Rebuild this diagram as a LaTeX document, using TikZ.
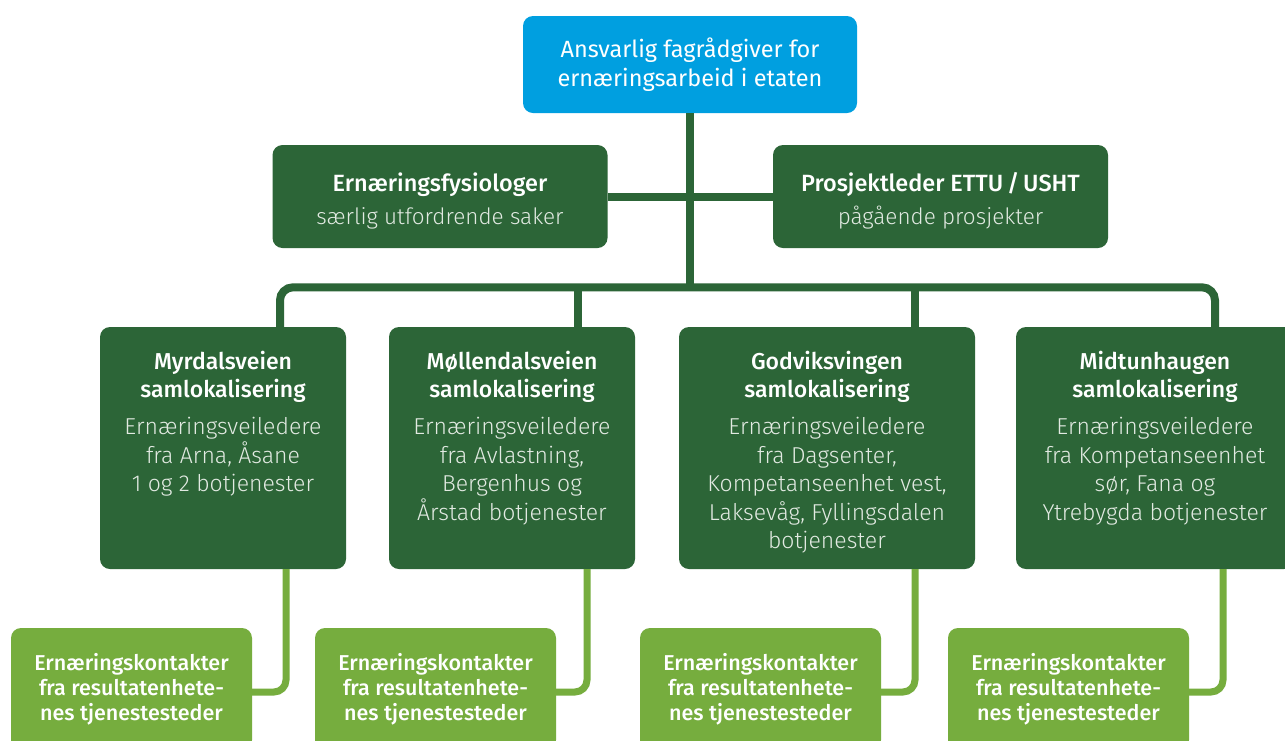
\documentclass[tikz,border=0pt]{standalone}
\usepackage{fontspec}
\setmainfont{Fira Sans}
\newfontfamily\lightfont{Fira Sans Light}
\newfontfamily\medfont{Fira Sans Medium}
\definecolor{topblue}{HTML}{009FE0}
\definecolor{darkgreen}{HTML}{2C6537}
\definecolor{leafgreen}{HTML}{76AD3E}
\definecolor{paletext}{HTML}{E2EAE2}
\tikzset{
  box/.style={rounded corners=10pt, inner sep=0pt, draw=none},
  topbox/.style={box, fill=topblue, minimum width=334pt, minimum height=97pt,
    text=white, align=center, font=\fontsize{23.5}{29.5}\selectfont},
  midbox/.style={box, fill=darkgreen, minimum width=335pt, minimum height=103pt},
  midtext/.style={align=center, text=white, inner sep=0pt, font=\fontsize{23}{28}\selectfont},
  unitbox/.style={box, fill=darkgreen, minimum height=242pt},
  unittext/.style={anchor=north, align=center, text=white, inner sep=0pt,
    font=\fontsize{23}{28.5}\selectfont},
  contactbox/.style={box, fill=leafgreen, minimum width=241pt, minimum height=122pt,
    text=white, align=center, font=\medfont\fontsize{21.5}{25}\selectfont},
  trunk/.style={draw=darkgreen, line width=8pt},
  twig/.style={draw=leafgreen, line width=7pt, rounded corners=12pt},
}
\newcommand{\unittitle}[1]{{\medfont #1}}
\newcommand{\unitbody}[1]{{\lightfont\color{paletext}#1}}
\begin{document}
\begin{tikzpicture}[x=1pt, y=-1pt]
  \useasboundingbox (0,0) rectangle (1285,740);
  \fill[white] (0,0) rectangle (1285,740);
  \clip (0,0) rectangle (1285,740);

  % top level
  \node[topbox] (top) at (690,64.5) {Ansvarlig fagrådgiver for\\ernæringsarbeid i etaten};

  % staff level
  \node[midbox] (fys) at (440,196.5) {};
  \node[midbox] (pro) at (940.5,196.5) {};
  \node[midtext] (fyst) at ([yshift=-4pt]fys.center)
    {\unittitle{\fontsize{23.5}{28}\selectfont Ernæringsfysiologer}\\[5pt]\unitbody{\fontsize{22.5}{28}\selectfont særlig utfordrende saker}};
  \node[midtext] (prot) at ([yshift=-4pt]pro.center)
    {\unittitle{\fontsize{23.5}{28}\selectfont Prosjektleder ETTU\,/\,USHT}\\[5pt]\unitbody{\fontsize{22.5}{28}\selectfont pågående prosjekter}};

  % co-location units
  \node[unitbox, minimum width=246pt] (m1) at (223,448) {};
  \node[unitbox, minimum width=246pt] (m2) at (512,448) {};
  \node[unitbox, minimum width=296pt] (m3) at (827,448) {};
  \node[unitbox, minimum width=278pt] (m4) at (1155,448) {};

  \node[unittext] (m1t) at ([yshift=-24pt]m1.north)
    {\unittitle{Myrdalsveien}\\\unittitle{samlokalisering}\\[8.5pt]
     \unitbody{Ernæringsveiledere}\\\unitbody{fra Arna, Åsane}\\\unitbody{1 og 2 botjenester}};
  \node[unittext] (m2t) at ([yshift=-24pt]m2.north)
    {\unittitle{Møllendalsveien}\\\unittitle{samlokalisering}\\[8.5pt]
     \unitbody{Ernæringsveiledere}\\\unitbody{fra Avlastning,}\\\unitbody{Bergenhus og}\\\unitbody{Årstad botjenester}};
  \node[unittext] (m3t) at ([yshift=-24pt]m3.north)
    {\unittitle{Godviksvingen}\\\unittitle{samlokalisering}\\[8.5pt]
     \unitbody{Ernæringsveiledere}\\\unitbody{fra Dagsenter,}\\\unitbody{Kompetanseenhet vest,}\\\unitbody{Laksevåg, Fyllingsdalen}\\\unitbody{botjenester}};
  \node[unittext] (m4t) at ([yshift=-24pt]m4.north)
    {\unittitle{Midtunhaugen}\\\unittitle{samlokalisering}\\[8.5pt]
     \unitbody{Ernæringsveiledere}\\\unitbody{fra Kompetanseenhet}\\\unitbody{sør, Fana og}\\\unitbody{Ytrebygda botjenester}};

  % contact persons
  \node[contactbox] (k1) at (131.5,689) {Ernæringskontakter\\fra resultatenhete-\\nes tjenestesteder};
  \node[contactbox] (k2) at (435.5,689) {Ernæringskontakter\\fra resultatenhete-\\nes tjenestesteder};
  \node[contactbox] (k3) at (760.5,689) {Ernæringskontakter\\fra resultatenhete-\\nes tjenestesteder};
  \node[contactbox] (k4) at (1068.5,689) {Ernæringskontakter\\fra resultatenhete-\\nes tjenestesteder};

  % dark connectors
  \coordinate (bar) at (690,287.5);
  \draw[trunk] (top.south) -- (bar);
  \draw[trunk] (fys.east) -- (pro.west);
  \draw[trunk, rounded corners=13pt]
    ([xshift=57pt]m1.north) -- ++(0,-39.5) -| ([xshift=60pt]m4.north);
  \draw[trunk] ([xshift=66pt]m2.north) -- ++(0,-39.5);
  \draw[trunk] ([xshift=88pt]m3.north) -- ++(0,-39.5);

  % light connectors
  \draw[twig] ([xshift=63pt]m1.south) |- ([yshift=-3pt]k1.east);
  \draw[twig] ([xshift=75pt]m2.south) |- ([yshift=-3pt]k2.east);
  \draw[twig] ([xshift=88pt]m3.south) |- ([yshift=-3pt]k3.east);
  \draw[twig] ([xshift=68pt]m4.south) |- ([yshift=-3pt]k4.east);
\end{tikzpicture}
\end{document}
